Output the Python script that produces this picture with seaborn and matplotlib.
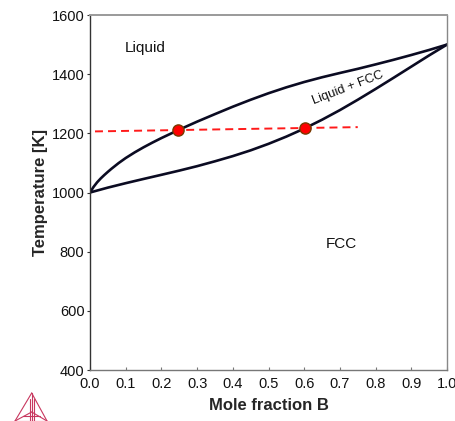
import matplotlib
matplotlib.use("Agg")
import matplotlib.pyplot as plt
import seaborn as sns

# ---- data ----
liq_x = [0.0, 0.01, 0.02, 0.03, 0.04, 0.05, 0.06, 0.08, 0.1, 0.125, 0.15, 0.175, 0.2,
         0.25, 0.3, 0.35, 0.4, 0.45, 0.5, 0.55, 0.6, 0.65, 0.7, 0.75, 0.8, 0.85, 0.9,
         0.95, 1.0]
liq_T = [1000, 1019, 1034.5, 1047.5, 1059, 1069.8, 1080.1, 1099.3, 1116.5, 1135.5,
         1152.8, 1168.8, 1184, 1212.5, 1239.5, 1265, 1290, 1313.5, 1335.5, 1355.5,
         1373.5, 1389.5, 1404, 1418, 1433, 1448.5, 1464.8, 1481.8, 1500]
sol_x = [0.0, 0.05, 0.1, 0.15, 0.2, 0.25, 0.3, 0.35, 0.4, 0.45, 0.5, 0.55, 0.6, 0.65,
         0.7, 0.75, 0.8, 0.85, 0.9, 0.95, 1.0]
sol_T = [1000, 1016.5, 1031.5, 1045.8, 1059.8, 1074, 1089, 1105.5, 1123, 1142.5,
         1164.5, 1189, 1216, 1246, 1278.5, 1313.5, 1350, 1387.5, 1425.5, 1463.5, 1500]
tie_x = [0.014, 0.75]
tie_T = [1206.5, 1221]
pt_x = [0.246, 0.602]
pt_T = [1211, 1218]
x_ticks = [0.0, 0.1, 0.2, 0.3, 0.4, 0.5, 0.6, 0.7, 0.8, 0.9, 1.0]
y_ticks = [400, 600, 800, 1000, 1200, 1400, 1600]

sns.set_style("white")
plt.rcParams['font.family'] = ['Liberation Sans', 'DejaVu Sans']

fig = plt.figure(figsize=(4.56, 4.21), dpi=100)
ax = fig.add_axes([90/456, 1-370/421, 357/456, 355/421])

line_col = "#0b0b22"
sns.lineplot(x=liq_x, y=liq_T, ax=ax, color=line_col, lw=1.9, sort=False, estimator=None)
sns.lineplot(x=sol_x, y=sol_T, ax=ax, color=line_col, lw=1.9, sort=False, estimator=None)
sns.lineplot(x=tie_x, y=tie_T, ax=ax, color="#ff1a1a", lw=1.4,
             linestyle=(0, (4.1, 2.6)), sort=False, estimator=None)
sns.scatterplot(x=pt_x, y=pt_T, ax=ax, color="#ff0000", edgecolor="#7a3a00",
                s=65, linewidth=1.0, zorder=5)

ax.set_xlim(0, 1)
ax.set_ylim(400, 1600)
ax.set_xticks(x_ticks)
ax.set_xticklabels([f"{v:.1f}" for v in x_ticks])
ax.set_yticks(y_ticks)
ax.tick_params(axis='x', direction='in', length=2.5, width=0.8, color="#777777",
               labelsize=10.5, pad=5, labelcolor="#111111")
ax.tick_params(axis='y', direction='out', length=2.5, width=0.8, color="#333333",
               labelsize=10.5, pad=1.5, labelcolor="#111111")
ax.tick_params(bottom=True, left=True)

for s, c, w in [("top", "#9a9a9a", 1.4), ("right", "#888888", 1.0),
                ("left", "#333333", 1.0), ("bottom", "#777777", 1.0)]:
    ax.spines[s].set_color(c)
    ax.spines[s].set_linewidth(w)
    ax.spines[s].set_visible(True)

ax.set_xlabel("Mole fraction B", fontsize=12, fontweight="bold", labelpad=5)
ax.set_ylabel("Temperature [K]", fontsize=12, fontweight="bold", labelpad=2.5)

ax.text(0.154, 1488, "Liquid", fontsize=11, ha="center", va="center", color="#111111")
ax.text(0.703, 826, "FCC", fontsize=11, ha="center", va="center", color="#111111")
ax.text(0.723, 1353, "Liquid + FCC", fontsize=9.3, ha="center", va="center",
        rotation=21, rotation_mode="anchor", color="#111111")

# logo (decoration)
lax = fig.add_axes([0, 0, 1, 1], facecolor="none")
lax.set_xlim(0, 456)
lax.set_ylim(421, 0)
lax.axis("off")
lc = "#c8385f"
ax_, ay_ = 31.7, 393
bl, br, by = (15, 421), (47, 421), 421
cx, cy = 31.7, 412
for seg in [[(ax_, ay_), bl], [(ax_, ay_), br], [bl, br], [(ax_, ay_), (cx, by)],
            [(cx, cy), bl], [(cx, cy), br], [(ax_ - 2, 399), (ax_ - 2, 421)],
            [(ax_ + 2, 399), (ax_ + 2, 421)], [(23, 416), (40.4, 416)]]:
    lax.plot([seg[0][0], seg[1][0]], [seg[0][1], seg[1][1]], color=lc, lw=0.8)

fig.savefig("out.png", dpi=100)
